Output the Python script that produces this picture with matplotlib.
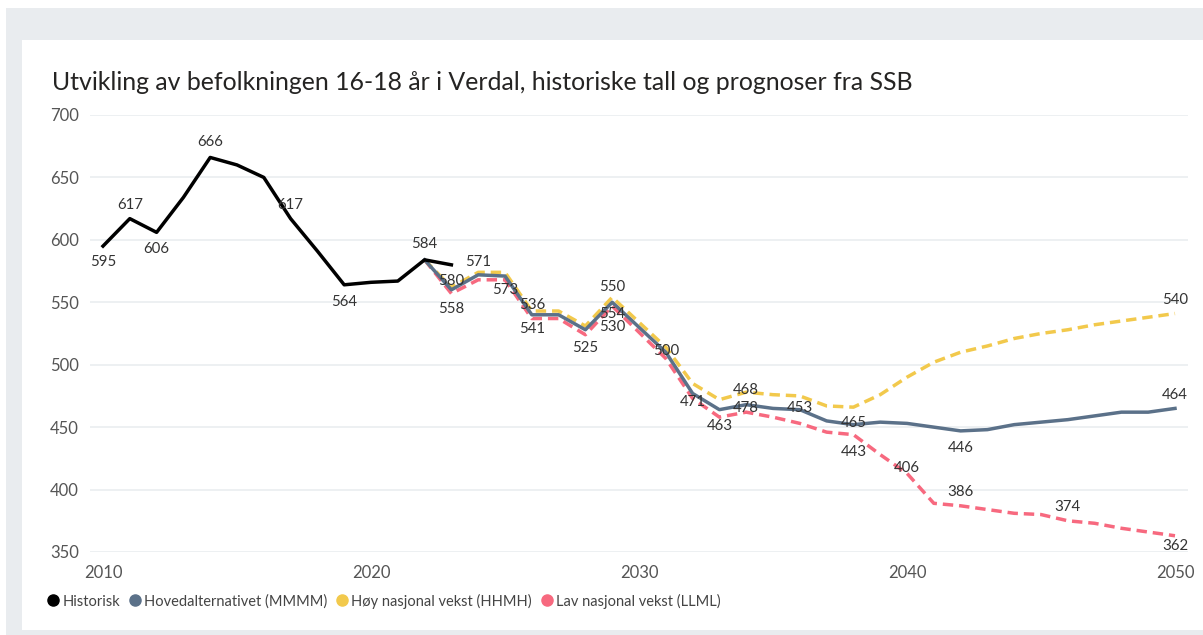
import numpy as np
import matplotlib.pyplot as plt
from matplotlib.lines import Line2D
from matplotlib.patches import Rectangle

plt.rcParams['font.family'] = ['Lato', 'DejaVu Sans']

# historic numbers
hist_years = list(range(2010, 2024))
hist_vals = [595, 617, 606, 634, 666, 660, 650, 617, 591, 564, 566, 567, 584, 580]

# SSB forecasts, 2022-2050
fc_years = list(range(2022, 2051))
main_vals = [584, 560, 572, 571, 540, 540, 528, 550, 530, 510, 477, 464, 468, 465, 464,
             455, 452, 454, 453, 450, 447, 448, 452, 454, 456, 459, 462, 462, 465]
high_vals = [584, 562, 574, 574, 543, 543, 531, 554, 534, 514, 485, 472, 478, 476, 475,
             467, 466, 476, 490, 502, 510, 515, 521, 525, 528, 532, 535, 538, 541]
low_vals = [584, 557, 568, 568, 537, 537, 524, 547, 526, 505, 473, 458, 462, 458, 453,
            446, 444, 428, 413, 389, 387, 384, 381, 380, 375, 373, 369, 366, 363]

# data labels as shown in the chart: (year, label centre, text)
label_years = [2010, 2011, 2012, 2014, 2017, 2019, 2022, 2023, 2023, 2024, 2025, 2026, 2026,
               2028, 2029, 2029, 2029, 2031, 2032, 2033, 2034, 2034, 2036, 2038, 2038, 2040,
               2042, 2042, 2046, 2050, 2050, 2050]
label_pos = [582, 628, 593, 678, 628, 550, 597, 567, 545, 582, 560, 548, 529,
             513, 562, 541, 530, 511, 470, 451, 480, 465, 465, 453, 430, 417,
             433, 398, 386, 552, 476, 355]
label_text = ['595', '617', '606', '666', '617', '564', '584', '580', '558', '571', '573', '536', '541',
              '525', '550', '554', '530', '500', '471', '463', '468', '478', '453', '465', '443', '406',
              '446', '386', '374', '540', '464', '362']

series_names = ['Historisk', 'Hovedalternativet (MMMM)', 'Høy nasjonal vekst (HHMH)',
                'Lav nasjonal vekst (LLML)']
colors = ['#000000', '#5b7189', '#f2c94c', '#f7697f']

W, H = 1203, 635
fig = plt.figure(figsize=(W / 100, H / 100), dpi=100)
fig.patch.set_facecolor('white')
fig.patches.append(Rectangle((6 / W, 0), 1, 1 - 8 / H, transform=fig.transFigure,
                             facecolor='#e9ecef', edgecolor='none', zorder=-2))
fig.patches.append(Rectangle((22 / W, 1 - 630 / H), 1, 590 / H, transform=fig.transFigure,
                             facecolor='white', edgecolor='none', zorder=-1))

ax = fig.add_axes([90 / W, 1 - 552 / H, 1098 / W, 437 / H])
ax.set_facecolor('none')

lw = 2.5
ax.plot(fc_years, low_vals, color=colors[3], lw=lw, dashes=(3, 1.7), solid_joinstyle='round')
ax.plot(fc_years, high_vals, color=colors[2], lw=lw, dashes=(3, 1.7), solid_joinstyle='round')
ax.plot(fc_years, main_vals, color=colors[1], lw=lw, solid_joinstyle='round')
ax.plot(hist_years, hist_vals, color=colors[0], lw=lw, solid_joinstyle='round')

for x, y, s in zip(label_years, label_pos, label_text):
    ax.text(x, y, s, ha='center', va='center', fontsize=10.8, color='#333333', zorder=5)

ax.set_xlim(2009.515, 2050.485)
ax.set_ylim(350, 700)
ax.set_yticks(range(350, 701, 50))
ax.set_xticks([2010, 2020, 2030, 2040, 2050])
ax.grid(axis='y', color='#eaedf0', lw=1.2)
ax.set_axisbelow(True)
for sp in ax.spines.values():
    sp.set_visible(False)
ax.tick_params(length=0, labelsize=12, labelcolor='#555555')
ax.tick_params(axis='y', pad=8)
ax.tick_params(axis='x', pad=9)

fig.text(52 / W, 1 - 82 / H, 'Utvikling av befolkningen 16-18 år i Verdal, historiske tall og prognoser fra SSB',
         ha='left', va='center', fontsize=17.9, color='#252423')

handles = [Line2D([], [], marker='o', ls='none', color=c, markersize=8) for c in colors]
fig.legend(handles, series_names, loc='center left', bbox_to_anchor=(49 / W, 1 - 601 / H),
           ncol=4, frameon=False, fontsize=10.5, handlelength=0.6, handletextpad=0.3,
           columnspacing=0.75, borderaxespad=0, borderpad=0, labelcolor='#444444')

fig.savefig('out.png', dpi=100)
